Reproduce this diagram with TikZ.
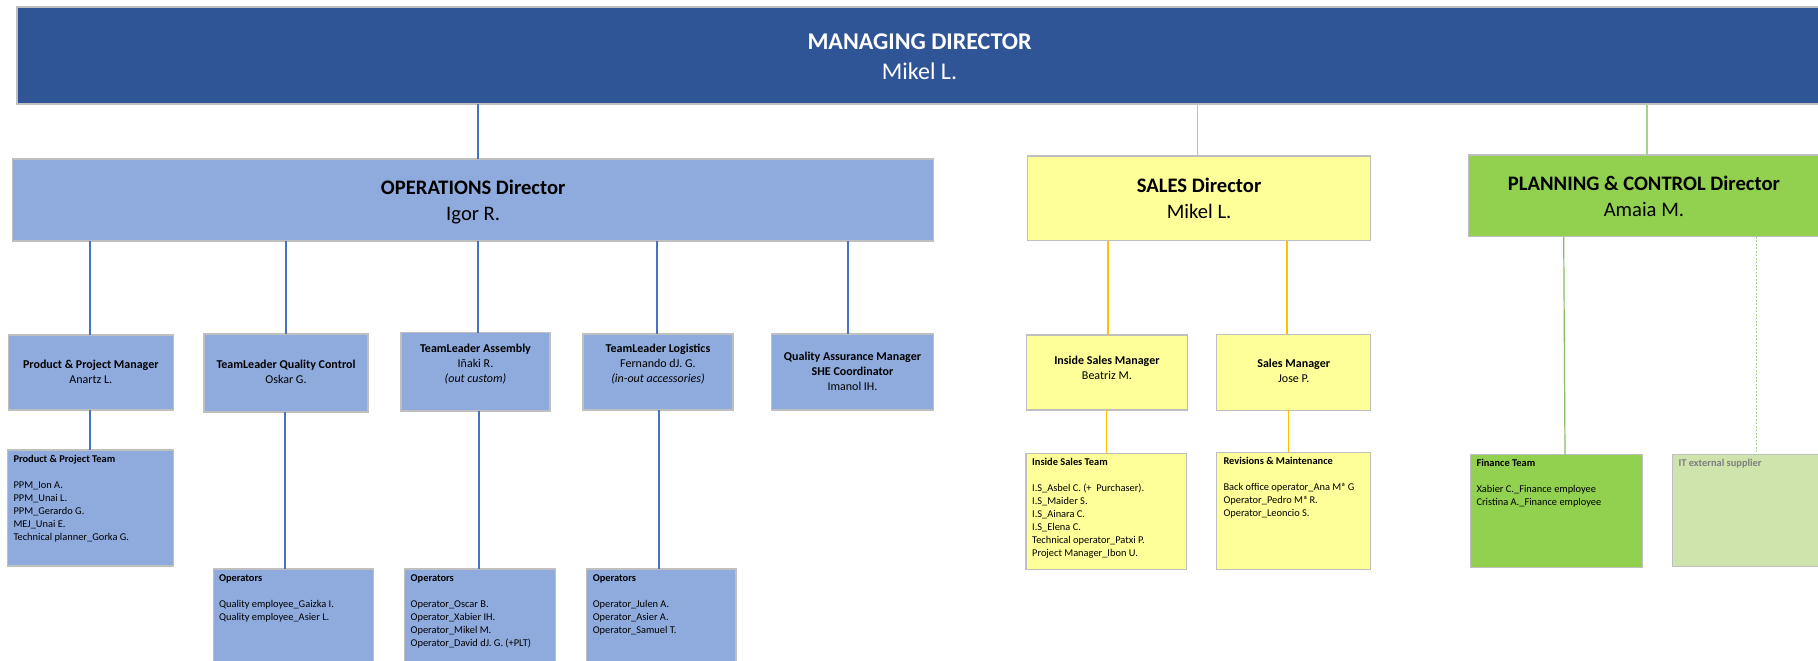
\documentclass[tikz,border=0pt]{standalone}
\usepackage{fontspec}
\setmainfont{Carlito}
\usetikzlibrary{calc}
\definecolor{mdblue}{HTML}{2F5597}
\definecolor{opsblue}{HTML}{8FAADC}
\definecolor{lineblue}{HTML}{4472C4}
\definecolor{salesyellow}{HTML}{FFFF99}
\definecolor{lineyellow}{HTML}{FFC000}
\definecolor{pcgreen}{HTML}{92D050}
\definecolor{itgreen}{HTML}{CFE4AC}
\definecolor{linegreen}{HTML}{A9D18E}
\definecolor{linegreendk}{HTML}{84BF62}
\definecolor{bordergray}{HTML}{BFBFBF}
\definecolor{itgray}{HTML}{7F7F7F}
\newcommand{\dropby}[2]{\raisebox{-#1}[\height][\depth]{#2}}
\newcommand{\ctab}[1]{\begin{tabular}{@{}c@{}}#1\end{tabular}}
\newcommand{\ltab}[1]{\begin{tabular}[t]{@{}l@{}}#1\end{tabular}}
\begin{document}
\begin{tikzpicture}[x=1pt,y=-1pt,
  box/.style={draw=bordergray, line width=1.1pt, inner sep=0pt, outer sep=0pt},
  mdbox/.style={box, fill=mdblue, text=white, font=\fontsize{24}{30}\selectfont},
  opsbox/.style={box, fill=opsblue},
  salesbox/.style={box, fill=salesyellow},
  pcbox/.style={box, fill=pcgreen},
  itbox/.style={box, fill=itgreen},
  dirfont/.style={font=\fontsize{20.6}{26}\selectfont},
  midfont/.style={font=\fontsize{12}{15}\selectfont},
  teamtext/.style={anchor=base west, inner sep=0pt, font=\fontsize{10.4}{12.9}\selectfont},
  bline/.style={draw=lineblue, line width=2pt},
  yline/.style={draw=lineyellow, line width=1.2pt},
  gline/.style={draw=linegreen, line width=1.2pt},
  gdline/.style={draw=linegreendk, line width=1.2pt}]
\useasboundingbox (0,0) rectangle (1818,661);
\fill[white] (0,0) rectangle (1818,661);

% Top level
\node[mdbox, minimum width=1805pt, minimum height=97pt] (md) at (919.5,55.5)
  {\dropby{3pt}{\ctab{\textbf{MANAGING DIRECTOR}\\Mikel L.}}};

% Directors
\node[opsbox, dirfont, minimum width=921pt, minimum height=82pt] (ops) at (473.2,200)
  {\dropby{2pt}{\ctab{\textbf{OPERATIONS Director}\\Igor R.}}};
\node[salesbox, dirfont, minimum width=343.2pt, minimum height=84.7pt] (sales) at (1199.1,198.3)
  {\dropby{2pt}{\ctab{\textbf{SALES Director}\\Mikel L.}}};
\node[pcbox, dirfont, minimum width=350.2pt, minimum height=81.7pt] (pc) at (1643.9,195.8)
  {\dropby{2pt}{\ctab{\textbf{PLANNING \& CONTROL Director}\\Amaia M.}}};

% Level 2
\node[opsbox, midfont, minimum width=165pt, minimum height=75pt] (ppm) at (90.8,372.5)
  {\ctab{\textbf{Product \& Project Manager}\\Anartz L.}};
\node[opsbox, midfont, minimum width=164pt, minimum height=78pt] (tlq) at (286,373)
  {\ctab{\textbf{TeamLeader Quality Control}\\Oskar G.}};
\node[opsbox, midfont, minimum width=149pt, minimum height=78.3pt] (tla) at (475.5,371.8)
  {\ctab{\textbf{TeamLeader Assembly}\\Iñaki R.\\\textit{(out custom)}\\\mbox{}}};
\node[opsbox, midfont, minimum width=150pt, minimum height=76pt] (tll) at (658,372)
  {\ctab{\textbf{TeamLeader Logistics}\\Fernando dJ. G.\\\textit{(in-out accessories)}\\\mbox{}}};
\node[opsbox, midfont, minimum width=161.6pt, minimum height=76pt] (qa) at (852.5,372)
  {\ctab{\textbf{Quality Assurance Manager}\\\textbf{SHE Coordinator}\\Imanol IH.}};
\node[salesbox, midfont, minimum width=161.7pt, minimum height=75pt] (ism) at (1106.9,372.5)
  {\ctab{\textbf{Inside Sales Manager}\\Beatriz M.\\[-7pt]\mbox{}}};
\node[salesbox, midfont, minimum width=154pt, minimum height=75.7pt] (sm) at (1293.7,372.2)
  {\ctab{\textbf{Sales Manager}\\Jose P.}};

% Level 3 boxes
\node[opsbox, minimum width=166pt, minimum height=116pt] (ppmteam) at (90.3,508) {};
\node[opsbox, minimum width=160pt, minimum height=111pt] (opq) at (293.3,624.5) {};
\node[opsbox, minimum width=151pt, minimum height=111pt] (opa) at (479.8,624.5) {};
\node[opsbox, minimum width=149.3pt, minimum height=111pt] (opl) at (661.3,624.5) {};
\node[salesbox, minimum width=160.7pt, minimum height=116pt] (ist) at (1106.3,511.3) {};
\node[salesbox, minimum width=154pt, minimum height=117pt] (rev) at (1293.7,510.8) {};
\node[pcbox, minimum width=172.3pt, minimum height=112.7pt] (fin) at (1556.2,510.7) {};
\node[itbox, minimum width=157.7pt, minimum height=111.7pt] (it) at (1751.2,510.2) {};

% Level 3 texts
\node[teamtext] (ppmteam-t) at ($(ppmteam.north west)+(6,12.6)$)
  {\ltab{\textbf{Product \& Project Team}\\ \\PPM\_Ion A.\\PPM\_Unai L.\\PPM\_Gerardo G.\\MEJ\_Unai E.\\Technical planner\_Gorka G.}};
\node[teamtext] (opq-t) at ($(opq.north west)+(5.6,12.6)$)
  {\ltab{\textbf{Operators}\\ \\Quality employee\_Gaizka I.\\Quality employee\_Asier L.}};
\node[teamtext] (opa-t) at ($(opa.north west)+(6.2,12.8)$)
  {\ltab{\textbf{Operators}\\ \\Operator\_Oscar B.\\Operator\_Xabier IH.\\Operator\_Mikel M.\\Operator\_David dJ. G. (+PLT)}};
\node[teamtext] (opl-t) at ($(opl.north west)+(6,12.8)$)
  {\ltab{\textbf{Operators}\\ \\Operator\_Julen A.\\Operator\_Asier A.\\Operator\_Samuel T.}};
\node[teamtext] (ist-t) at ($(ist.north west)+(6,12.4)$)
  {\ltab{\textbf{Inside Sales Team}\\ \\I.S\_Asbel C. (+~ Purchaser).\\I.S\_Maider S.\\I.S\_Ainara C.\\I.S\_Elena C.\\Technical operator\_Patxi P.\\Project Manager\_Ibon U.}};
\node[teamtext] (rev-t) at ($(rev.north west)+(6.6,12.4)$)
  {\ltab{\textbf{Revisions \& Maintenance}\\ \\Back office operator\_Ana Mª G\\Operator\_Pedro Mª R.\\Operator\_Leoncio S.}};
\node[teamtext] (fin-t) at ($(fin.north west)+(6.3,12.4)$)
  {\ltab{\textbf{Finance Team}\\ \\Xabier C.\_Finance employee\\Cristina A.\_Finance employee}};
\node[teamtext, text=itgray] (it-t) at ($(it.north west)+(6,11.8)$)
  {\textbf{IT external supplier}};

% Connectors
\draw[bline] (md.south-|477.6,0) -- (ops.north-|477.6,0);
\draw[yline] (md.south-|1197.8,0) -- (sales.north-|1197.8,0);
\draw[gline] (md.south-|1647,0) -- (pc.north-|1647,0);

\draw[bline] (ops.south-|89.5,0) -- (ppm.north-|89.5,0);
\draw[bline] (ppm.south-|90,0) -- (ppmteam.north-|90,0);
\draw[bline] (ops.south-|285.5,0) -- (tlq.north-|285.5,0);
\draw[bline] (tlq.south-|285.3,0) -- (opq.north-|285.3,0);
\draw[bline] (ops.south-|477.8,0) -- (tla.north-|477.8,0);
\draw[bline] (tla.south-|479,0) -- (opa.north-|479,0);
\draw[bline] (ops.south-|656.8,0) -- (tll.north-|656.8,0);
\draw[bline] (tll.south-|659,0) -- (opl.north-|659,0);
\draw[bline] (ops.south-|848.3,0) -- (qa.north-|848.3,0);

\draw[yline] (sales.south-|1108,0) -- (ism.north-|1108,0);
\draw[yline] (ism.south-|1106.7,0) -- (ist.north-|1106.7,0);
\draw[yline] (sales.south-|1287,0) -- (sm.north-|1287,0);
\draw[yline] (sm.south-|1288.3,0) -- (rev.north-|1288.3,0);

\draw[gdline] (pc.south-|1563.7,0) -- (fin.north-|1565,0);
\draw[gline, dash pattern=on 2pt off 1.5pt] (pc.south-|1756.7,0) -- (it.north-|1756.7,0);
\end{tikzpicture}
\end{document}
